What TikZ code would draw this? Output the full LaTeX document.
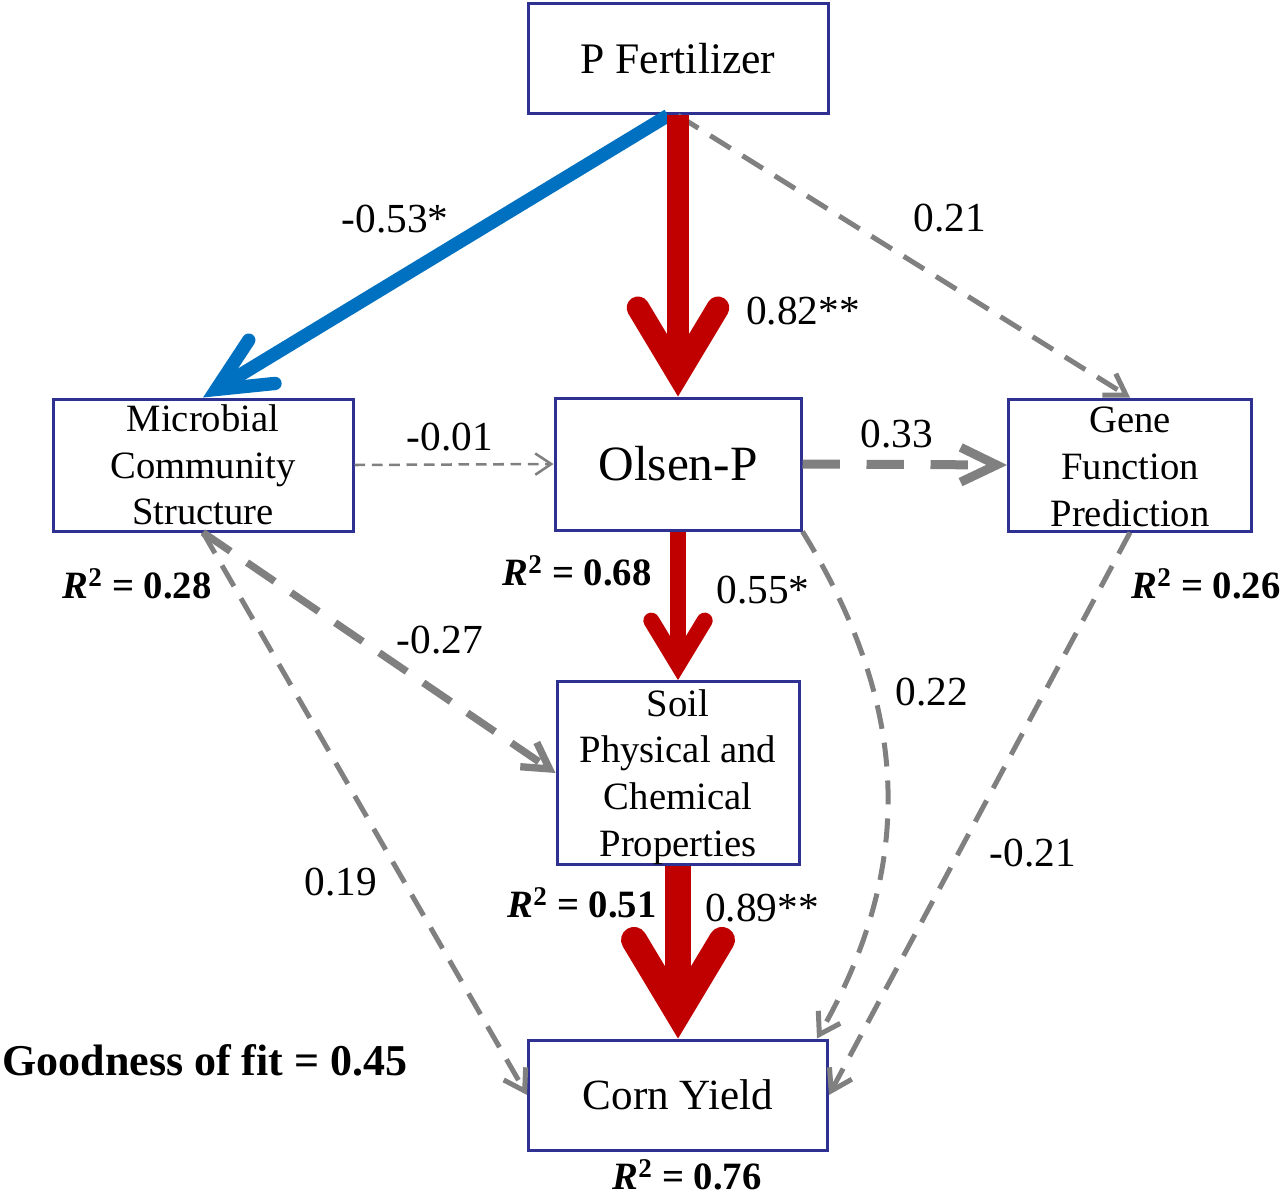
\documentclass[tikz,border=0pt]{standalone}
\usepackage{fontspec}
\setmainfont{Liberation Serif}
\usetikzlibrary{arrows.meta}
\definecolor{boxblue}{HTML}{2E3192}
\definecolor{pred}{HTML}{C00000}
\definecolor{pblue}{HTML}{0070C0}
\definecolor{pgrey}{HTML}{808080}
\begin{document}
\begin{tikzpicture}[x=0.75pt,y=-0.75pt,
  box/.style={draw=boxblue,line width=2.25pt,fill=white,inner sep=0pt,align=center,font=\fontsize{29}{35}\selectfont},
  lab/.style={font=\fontsize{31}{36}\selectfont,inner sep=0pt},
  rlab/.style={font=\bfseries\fontsize{29}{34}\selectfont,inner sep=0pt},
  redbig/.style={draw=pred,line width=17pt,-{Straight Barb[length=50pt,width=60pt,line cap=round,line join=miter]}},
  redmid/.style={draw=pred,line width=12pt,-{Straight Barb[length=33pt,width=40pt,line cap=round,line join=miter]}},
  redbot/.style={draw=pred,line width=19.5pt,-{Straight Barb[length=55pt,width=66pt,line cap=round,line join=miter]}},
  bluearr/.style={draw=pblue,line width=10pt,-{Straight Barb[length=40pt,width=38pt,line cap=round,line join=miter]}},
  gthin/.style={draw=pgrey,line width=1.9pt,dash pattern=on 8pt off 5pt,-{Straight Barb[length=12pt,width=16pt]}},
  gmed/.style={draw=pgrey,line width=3.75pt,dash pattern=on 18pt off 10.5pt,-{Straight Barb[length=15pt,width=19pt]}},
  gthick/.style={draw=pgrey,line width=5.5pt,dash pattern=on 25pt off 15pt,-{Straight Barb[length=19pt,width=22pt]}},
  gheavy/.style={draw=pgrey,line width=6.75pt,dash pattern=on 28pt off 20pt,-{Straight Barb[length=27pt,width=26pt]}}
]
\useasboundingbox (0,0) rectangle (1282,1198);

% boxes
\node[box,minimum width=225pt,minimum height=82.5pt,font=\fontsize{32.7}{38}\selectfont] (pf) at (678,59) {P Fertilizer};
\node[box,minimum width=225pt,minimum height=99pt] (mcs) at (203,465) {Microbial\\Community\\Structure};
\node[box,minimum width=184.5pt,minimum height=99pt,font=\fontsize{37}{42}\selectfont] (ol) at (678,464) {Olsen-P};
\node[box,minimum width=182.25pt,minimum height=99pt] (gfp) at (1130,465) {\rule{0pt}{22pt}Gene\\Function\\Prediction};
\node[box,minimum width=181.5pt,minimum height=135pt] (soil) at (678,773) {\rule{0pt}{26pt}Soil\\Physical and\\Chemical\\Properties};
\node[box,minimum width=224.25pt,minimum height=82.5pt,font=\fontsize{32.3}{38}\selectfont] (corn) at (678,1095) {Corn Yield};

% connectors
\draw[gmed] (pf.south) -- (gfp.north);
\draw[bluearr] ([xshift=-7.5pt]pf.south) -- (mcs.north);
\draw[redbig] (pf.south) -- (ol.north);
\draw[gthin] (mcs.east) -- (ol.west);
\draw[gheavy] (ol.east) -- (gfp.west);
\draw[redmid] (ol.south) -- (soil.north);
\draw[gthick] (mcs.south) -- (soil.west);
\draw[gmed] (mcs.south) -- (corn.west);
\draw[gmed] (ol.south east) .. controls (900,690) and (925,850) .. ([xshift=-9pt]corn.north east);
\draw[gmed] (gfp.south) -- (corn.east);
\draw[redbot] (soil.south) -- (corn.north);

% labels
\node[lab] (l1) at (395,219) {-0.53*};
\node[lab] (l2) at (803,311) {0.82**};
\node[lab] (l3) at (950,218) {0.21};
\node[lab] (l4) at (450,437) {-0.01};
\node[lab] (l5) at (897,434) {0.33};
\node[lab] (l6) at (763,590) {0.55*};
\node[lab] (l7) at (440,640) {-0.27};
\node[lab] (l8) at (932,692) {0.22};
\node[lab] (l9) at (341,882) {0.19};
\node[lab] (l10) at (1033,853) {-0.21};
\node[lab] (l11) at (762,908) {0.89**};

\node[rlab] (r1) at (577,571) {\textit{R}\textsuperscript{2} = 0.68};
\node[rlab] (r2) at (137,584) {\textit{R}\textsuperscript{2} = 0.28};
\node[rlab] (r3) at (1206,584) {\textit{R}\textsuperscript{2} = 0.26};
\node[rlab] (r4) at (582,903) {\textit{R}\textsuperscript{2} = 0.51};
\node[rlab] (r5) at (687,1175) {\textit{R}\textsuperscript{2} = 0.76};
\node[font=\bfseries\fontsize{33}{38}\selectfont,inner sep=0pt] (gof) at (205,1060) {Goodness of fit = 0.45};
\end{tikzpicture}
\end{document}
